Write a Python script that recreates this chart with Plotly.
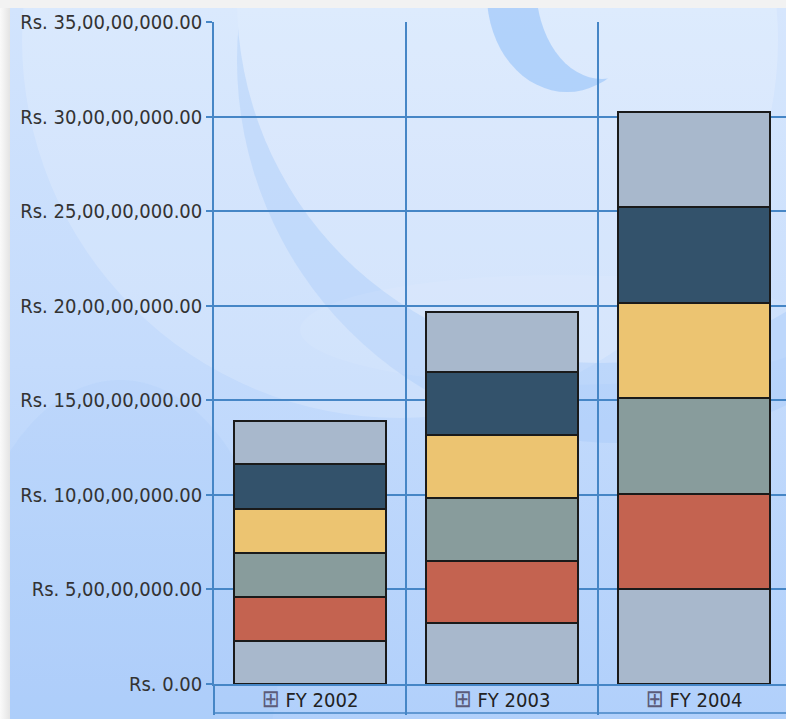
import base64
import plotly.graph_objects as go

# ---------------- data ----------------
CATEGORIES = ["FY 2002", "FY 2003", "FY 2004"]

SERIES_NAMES = ["Series 1", "Series 2", "Series 3", "Series 4", "Series 5", "Series 6"]
SERIES_1 = [22_500_000, 32_200_000, 50_300_000]
SERIES_2 = [23_700_000, 32_900_000, 50_400_000]
SERIES_3 = [23_000_000, 33_200_000, 50_600_000]
SERIES_4 = [23_500_000, 33_100_000, 50_300_000]
SERIES_5 = [23_500_000, 33_400_000, 50_800_000]
SERIES_6 = [23_000_000, 32_000_000, 50_100_000]

Y_TICK_VALUES = [0, 50_000_000, 100_000_000, 150_000_000, 200_000_000,
                 250_000_000, 300_000_000, 350_000_000]
Y_TICK_LABELS = ["Rs. 0.00", "Rs. 5,00,00,000.00", "Rs. 10,00,00,000.00",
                 "Rs. 15,00,00,000.00", "Rs. 20,00,00,000.00", "Rs. 25,00,00,000.00",
                 "Rs. 30,00,00,000.00", "Rs. 35,00,00,000.00"]

# ---------------- styling ----------------
COLORS = ["#a8b8cc", "#c46350", "#889c9c", "#ecc471", "#33526b", "#a8b8cc"]
GRID = "#4686c6"
FONT = "DejaVu Sans Condensed, Liberation Sans Narrow, Tahoma, DejaVu Sans, sans-serif"

W, H = 786, 719
ML, MR, MT, MB = 214, 0, 22, 35
PW, PH = W - ML - MR, H - MT - MB
CAT_PX = 192.0  # pixel width of one category band
BAND_PX = 29    # height of the category label band under the plot


def circ(cx, cy, r):
    return (f"M {cx - r},{cy} a {r},{r} 0 1,0 {2 * r},0 "
            f"a {r},{r} 0 1,0 {-2 * r},0 Z")


svg = f"""<svg xmlns="http://www.w3.org/2000/svg" width="{W}" height="{H}" viewBox="0 0 {W} {H}">
<defs>
<linearGradient id="g" x1="0" y1="0" x2="0" y2="1">
<stop offset="0" stop-color="#d2e4fd"/>
<stop offset="0.5" stop-color="#c4dbfc"/>
<stop offset="1" stop-color="#b1d0fb"/>
</linearGradient>
<linearGradient id="side" x1="0" y1="0" x2="1" y2="0">
<stop offset="0" stop-color="#fafafa"/>
<stop offset="1" stop-color="#e4e4e4"/>
</linearGradient>
<clipPath id="c"><rect x="10" y="8" width="776" height="711"/></clipPath>
<mask id="m1" maskUnits="userSpaceOnUse" x="0" y="0" width="{W}" height="{H}">
<rect width="{W}" height="{H}" fill="white"/>
<path d="{circ(600, 0, 363)}" fill="black"/>
</mask>
<mask id="m2" maskUnits="userSpaceOnUse" x="0" y="0" width="{W}" height="{H}">
<rect width="{W}" height="{H}" fill="white"/>
<ellipse cx="602" cy="-15" rx="66" ry="94" fill="black"/>
</mask>
</defs>
<rect width="{W}" height="{H}" fill="#f2f2f2"/>
<rect x="0" y="8" width="10" height="{H}" fill="url(#side)"/>
<g clip-path="url(#c)">
<rect x="10" y="8" width="776" height="711" fill="url(#g)"/>
<path d="{circ(400, 40, 378)}" fill="#ffffff" fill-opacity="0.18"/>
<path d="{circ(620, 60, 383)}" fill="#9cc4f9" fill-opacity="0.30" mask="url(#m1)"/>
<path d="{circ(600, 0, 363)}" fill="#ffffff" fill-opacity="0.10"/>
<ellipse cx="567" cy="-5" rx="80" ry="97" fill="#a3c9fa" fill-opacity="0.75" mask="url(#m2)"/>
<ellipse cx="560" cy="330" rx="260" ry="55" fill="#ffffff" fill-opacity="0.07"/>
<ellipse cx="120" cy="640" rx="160" ry="260" fill="#9cc5fa" fill-opacity="0.15"/>
</g>
</svg>"""
bg_src = "data:image/svg+xml;base64," + base64.b64encode(svg.encode()).decode()

fig = go.Figure()
series = [SERIES_1, SERIES_2, SERIES_3, SERIES_4, SERIES_5, SERIES_6]
for name, vals, col in zip(SERIES_NAMES, series, COLORS):
    fig.add_trace(go.Bar(
        x=CATEGORIES, y=vals, name=name,
        marker=dict(color=col, line=dict(color="#1a1a1a", width=2)),
        showlegend=False,
    ))

tick_text = [f"<span style='color:#5c5c7a;font-size:24px'>⊞</span> {c}" for c in CATEGORIES]

fig.update_layout(
    width=W, height=H,
    margin=dict(l=ML, r=MR, t=MT, b=MB, pad=0),
    barmode="stack",
    bargap=0.213,
    paper_bgcolor="#f2f2f2",
    plot_bgcolor="rgba(0,0,0,0)",
    font=dict(family=FONT, size=20, color="#333333"),
    images=[dict(
        source=bg_src, xref="paper", yref="paper",
        x=-ML / PW, y=1 + MT / PH, sizex=W / PW, sizey=H / PH,
        xanchor="left", yanchor="top", sizing="stretch", layer="below",
    )],
    shapes=[dict(
        type="line", xref="paper", yref="paper",
        x0=0, x1=1.02, y0=-BAND_PX / PH, y1=-BAND_PX / PH,
        line=dict(color=GRID, width=1.5),
    )],
)

fig.update_xaxes(
    type="category",
    range=[-0.5, -0.5 + PW / CAT_PX],
    tickmode="array", tickvals=CATEGORIES, ticktext=tick_text,
    tickson="boundaries",
    ticks="outside", ticklen=BAND_PX, tickwidth=1.5, tickcolor=GRID,
    ticklabelstandoff=-3,
    showgrid=True, gridcolor=GRID, gridwidth=1.5,
    showline=True, linecolor=GRID, linewidth=1.5,
    tickfont=dict(family=FONT, size=20, color="#222222"),
    fixedrange=True,
)
fig.update_yaxes(
    range=[0, 350_000_000],
    tickmode="array", tickvals=Y_TICK_VALUES, ticktext=Y_TICK_LABELS,
    ticks="outside", ticklen=6, tickwidth=1.5, tickcolor=GRID,
    showgrid=True, gridcolor=GRID, gridwidth=1.5,
    showline=True, linecolor=GRID, linewidth=1.5,
    zeroline=False,
    tickfont=dict(family=FONT, size=20, color="#333333"),
    fixedrange=True,
)

fig.write_html(
    "out.html",
    config=dict(displayModeBar=False),
    post_script="document.body.style.margin='0';document.body.style.overflow='hidden';",
)
